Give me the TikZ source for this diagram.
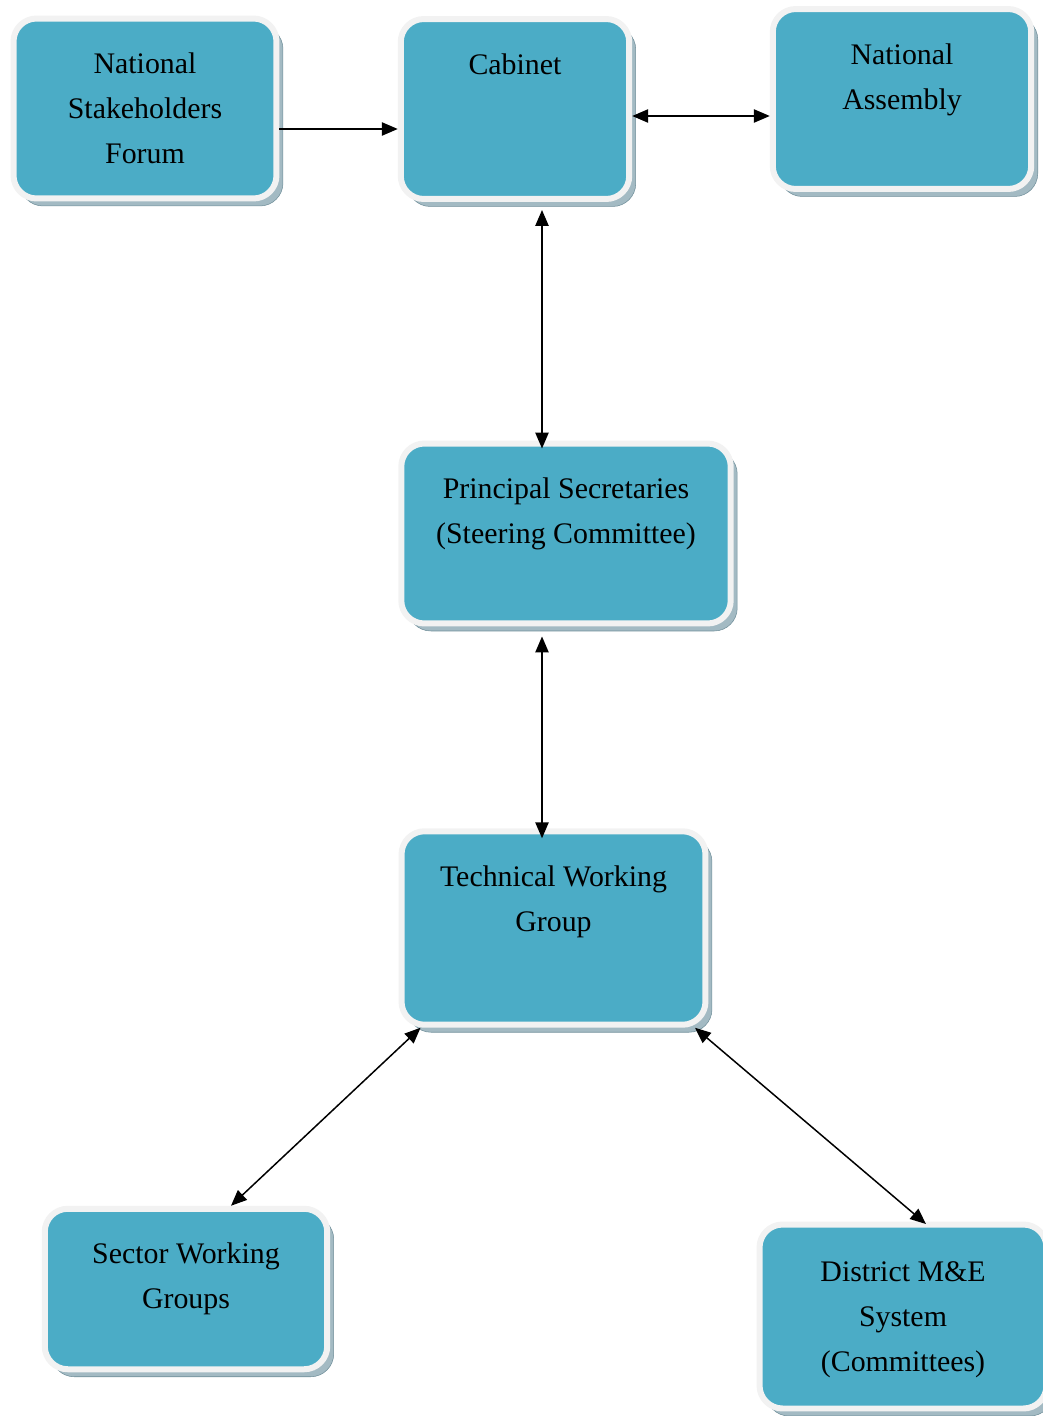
\documentclass[tikz,border=0pt]{standalone}
\usepackage{fontspec}
\setmainfont{Liberation Serif}
\usetikzlibrary{positioning,shadows,arrows.meta,calc}

\definecolor{boxteal}{HTML}{4BACC6}
\definecolor{boxring}{HTML}{F2F2F2}
\definecolor{boxshade}{HTML}{A3BAC3}
\definecolor{boxshadeline}{HTML}{6F8E99}

\tikzset{
  boxnode/.style={rectangle, rounded corners=0.46cm, fill=boxteal, draw=boxring,
    line width=0.12cm, inner sep=0pt,
    drop shadow={shadow xshift=0.13cm, shadow yshift=-0.15cm, fill=boxshade,
      draw=boxshadeline, line width=0.3pt, opacity=1}},
  txtnode/.style={anchor=north, inner sep=0pt, align=center,
    font=\fontsize{17pt}{25.5pt}\selectfont},
  >={Triangle[length=9pt,width=7.5pt]},
  link/.style={line width=0.85pt, black}
}

\begin{document}
\begin{tikzpicture}[x=0.02cm,y=-0.02cm]
\useasboundingbox (0,0) rectangle (1042,1416);

% the boxes
\node[boxnode, minimum width=5.26cm, minimum height=3.6cm] (nsf) at (145,108.5) {};
\node[boxnode, minimum width=4.57cm, minimum height=3.6cm] (cabinet) at (515,109) {};
\node[boxnode, minimum width=5.17cm, minimum height=3.6cm] (na) at (902,99) {};
\node[boxnode, minimum width=6.59cm, minimum height=3.6cm] (ps) at (566,533.5) {};
\node[boxnode, minimum width=6.08cm, minimum height=3.87cm] (twg) at (553.5,928) {};
\node[boxnode, minimum width=5.65cm, minimum height=3.21cm] (swg) at (186,1289) {};
\node[boxnode, minimum width=5.74cm, minimum height=3.68cm] (district) at (903,1316.5) {};

% the texts
\node[txtnode] (nsf-t) at ([yshift=-0.53cm]nsf.north) {\strut National\\Stakeholders\\Forum};
\node[txtnode] (cabinet-t) at ([yshift=-0.53cm]cabinet.north) {\strut Cabinet};
\node[txtnode] (na-t) at ([yshift=-0.53cm]na.north) {\strut National\\Assembly};
\node[txtnode] (ps-t) at ([yshift=-0.53cm]ps.north) {\strut Principal Secretaries\\(Steering Committee)};
\node[txtnode] (twg-t) at ([yshift=-0.53cm]twg.north) {\strut Technical Working\\Group};
\node[txtnode] (swg-t) at ([yshift=-0.53cm]swg.north) {\strut Sector Working\\Groups};
\node[txtnode] (district-t) at ([yshift=-0.57cm]district.north) {\strut District M\&E\\System\\(Committees)};

% the arrows
\draw[link,->] ([yshift=-0.41cm]nsf.east) -- ([yshift=-0.41cm]nsf.east -| cabinet.west);
\draw[link,<->] ([yshift=-0.14cm]cabinet.east) -- ([yshift=-0.14cm]cabinet.east -| na.west);
\draw[link,<->] ([xshift=0.54cm,yshift=-0.16cm]cabinet.south) -- ([xshift=0.54cm,yshift=-0.16cm]cabinet.south |- ps.north);
\draw[link,<->] ([xshift=-0.48cm,yshift=-0.2cm]ps.south) -- ([xshift=-0.48cm,yshift=-0.2cm]ps.south |- twg.north);
\draw[link,<->] ([xshift=0.44cm]twg.south west) -- ([xshift=0.9cm]swg.north);
\draw[link,<->] ([xshift=-0.27cm]twg.south east) -- ([xshift=0.46cm,yshift=-0.05cm]district.north);

\end{tikzpicture}
\end{document}
